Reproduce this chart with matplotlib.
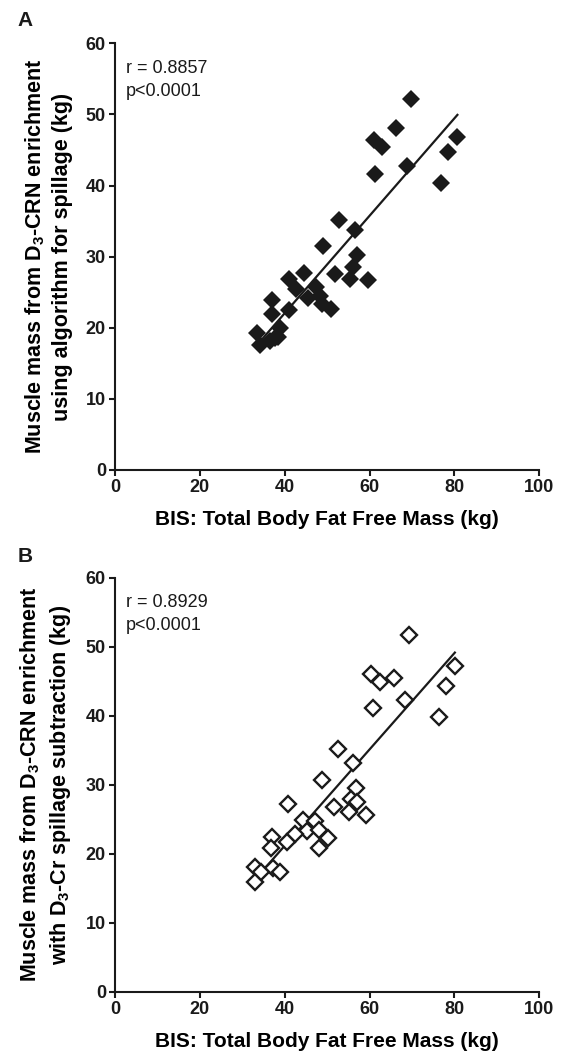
import numpy as np
import matplotlib
matplotlib.use("Agg")
import matplotlib.pyplot as plt

plt.rcParams['font.family'] = ['Liberation Sans', 'DejaVu Sans']
plt.rcParams['mathtext.fontset'] = 'custom'
plt.rcParams['mathtext.rm'] = 'Liberation Sans:bold'
plt.rcParams['mathtext.it'] = 'Liberation Sans:bold'
plt.rcParams['mathtext.bf'] = 'Liberation Sans:bold'

# Panel A data (filled diamonds)
a_x = [69.8, 66.3, 61.0, 63.0, 80.7, 78.5, 68.9, 61.3, 76.9, 52.9, 56.6, 49.1,
       57.1, 56.2, 51.8, 55.4, 59.6, 44.5, 41.1, 42.7, 47.4, 45.6, 48.3, 48.7,
       50.8, 37.1, 36.9, 41.1, 33.4, 34.2, 36.5, 37.7, 38.5, 39.0]
a_y = [52.1, 48.1, 46.4, 45.4, 46.8, 44.7, 42.8, 41.6, 40.3, 35.2, 33.8, 31.5,
       30.2, 28.6, 27.6, 26.9, 26.7, 27.7, 26.8, 25.4, 25.7, 24.2, 24.4, 23.4,
       22.7, 23.9, 22.0, 22.5, 19.2, 17.6, 18.2, 18.5, 18.7, 19.9]

# Panel B data (open diamonds)
b_x = [69.3, 60.3, 62.5, 65.8, 80.1, 77.9, 68.3, 60.9, 76.4, 52.6, 56.2, 48.7,
       56.8, 55.6, 57.0, 51.7, 55.2, 59.1, 40.8, 44.4, 47.1, 45.2, 48.1, 42.4,
       40.5, 50.3, 48.1, 36.9, 36.8, 33.0, 33.0, 37.3, 38.9, 34.5]
b_y = [51.7, 46.1, 44.9, 45.4, 47.2, 44.3, 42.3, 41.1, 39.8, 35.1, 33.2, 30.7,
       29.5, 27.9, 27.5, 26.8, 26.1, 25.6, 27.2, 24.9, 24.8, 23.3, 23.4, 22.9,
       21.7, 22.3, 20.8, 22.4, 20.8, 18.1, 15.9, 17.9, 17.4, 17.3]

x_ticks = [0, 20, 40, 60, 80, 100]
y_ticks = [0, 10, 20, 30, 40, 50, 60]
xlabel = "BIS: Total Body Fat Free Mass (kg)"
ylabel_a = "Muscle mass from D$_3$-CRN enrichment\nusing algorithm for spillage (kg)"
ylabel_b = "Muscle mass from D$_3$-CRN enrichment\nwith D$_3$-Cr spillage subtraction (kg)"
stats_a = "r = 0.8857\np<0.0001"
stats_b = "r = 0.8929\np<0.0001"

fig = plt.figure(figsize=(5.62, 10.64), dpi=100)
ax_a = fig.add_axes([0.2046, 0.5583, 0.7550, 0.4010])
ax_b = fig.add_axes([0.2046, 0.0680, 0.7550, 0.3891])

INK = '#1a1a1a'

def style(ax, xs, ys, filled, ylabel, stats, letter):
    xs = np.array(xs); ys = np.array(ys)
    if filled:
        ax.plot(xs, ys, linestyle='none', marker='D', markersize=9.5,
                color=INK, markeredgewidth=0, zorder=3)
    else:
        ax.plot(xs, ys, linestyle='none', marker='D', markersize=8.3,
                markerfacecolor='white', markeredgecolor=INK,
                markeredgewidth=1.7, zorder=3)
    m, c = np.polyfit(xs, ys, 1)
    xl = np.array([xs.min(), xs.max()])
    ax.plot(xl, m * xl + c, color=INK, linewidth=1.6, zorder=2)
    ax.set_xlim(0, 100)
    ax.set_ylim(0, 60)
    ax.set_xticks(x_ticks)
    ax.set_yticks(y_ticks)
    ax.set_xticklabels([str(t) for t in x_ticks], fontweight='bold', fontsize=13)
    ax.set_yticklabels([str(t) for t in y_ticks], fontweight='bold', fontsize=13)
    for s in ['top', 'right']:
        ax.spines[s].set_visible(False)
    for s in ['left', 'bottom']:
        ax.spines[s].set_linewidth(1.5)
        ax.spines[s].set_color(INK)
    ax.tick_params(direction='out', length=4.5, width=1.5, colors=INK, pad=2)
    ax.set_xlabel(xlabel, fontweight='bold', fontsize=15, labelpad=10)
    ax.set_ylabel(ylabel, fontweight='bold', fontsize=15.5, labelpad=9,
                  linespacing=1.35)
    ax.text(0.025, 0.96, stats, transform=ax.transAxes, ha='left', va='top',
            fontsize=13, linespacing=1.45, color=INK)
    ax.text(-0.193, 1.075, letter, transform=ax.transAxes, ha='right', va='top',
            fontsize=15, fontweight='bold', color=INK)

style(ax_a, a_x, a_y, True, ylabel_a, stats_a, 'A')
style(ax_b, b_x, b_y, False, ylabel_b, stats_b, 'B')

fig.savefig('out.png', dpi=100)
